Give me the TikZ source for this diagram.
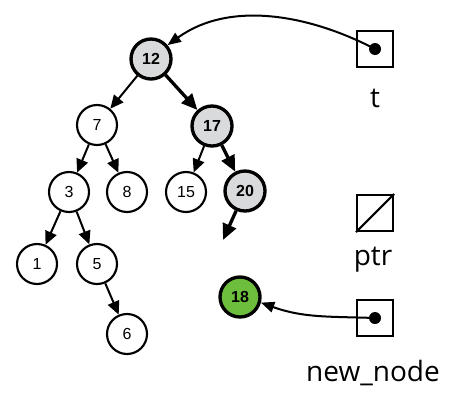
\documentclass[tikz,border=0pt]{standalone}
\usepackage{fontspec}
\setmainfont{Open Sans}
\newfontfamily\numfont{Liberation Sans}
\usetikzlibrary{arrows.meta}
\definecolor{visitgray}{RGB}{217,218,220}
\definecolor{newgreen}{RGB}{108,190,60}
\begin{document}
\begin{tikzpicture}[x=0.75pt,y=-0.75pt,
  tnode/.style={circle,draw,line width=1.6pt,minimum size=30pt,inner sep=0pt,
    fill=white,font=\numfont\fontsize{12}{14}\selectfont},
  pathnode/.style={tnode,line width=2.5pt,fill=visitgray,
    font=\numfont\bfseries\fontsize{12}{14}\selectfont},
  newnode/.style={pathnode,fill=newgreen},
  edge/.style={-{Triangle[length=10pt,width=9pt]},line width=1.5pt},
  pathedge/.style={-{Triangle[length=12pt,width=10.5pt]},line width=2.5pt},
  refarrow/.style={-{Triangle[length=10pt,width=8pt]},line width=1.5pt},
  ptrbox/.style={draw,line width=1.6pt,minimum size=27pt,inner sep=0pt},
  lbl/.style={font=\fontsize{21}{25}\selectfont,inner sep=0pt},
  dot/.style={circle,fill,minimum size=9pt,inner sep=0pt}
]
\useasboundingbox (0,0) rectangle (466,407);

% binary search tree
\node[pathnode] (n12) at (151,59) {12};
\node[tnode]    (n7)  at (97,125) {7};
\node[pathnode] (n17) at (212,126) {17};
\node[tnode]    (n3)  at (69,192) {3};
\node[tnode]    (n8)  at (127,192) {8};
\node[tnode]    (n15) at (186,192) {15};
\node[pathnode] (n20) at (245,191) {20};
\node[tnode]    (n1)  at (37,264) {1};
\node[tnode]    (n5)  at (97,264) {5};
\node[tnode]    (n6)  at (127,334) {6};
\node[newnode]  (n18) at (240,297) {18};
\coordinate (nil) at (223,240);

\draw[edge] (n12) -- (n7);
\draw[edge] (n7) -- (n3);
\draw[edge] (n7) -- (n8);
\draw[edge] (n3) -- (n1);
\draw[edge] (n3) -- (n5);
\draw[edge] (n5) -- (n6);
\draw[edge] (n17) -- (n15);
\draw[pathedge] (n12) -- (n17);
\draw[pathedge] (n17) -- (n20);
\draw[pathedge] (n20) -- (nil);

% pointer variables
\node[ptrbox] (t) at (375,49) {};
\node[dot] (tdot) at (t.center) {};
\node[lbl] (tlbl) at (375,98) {t};

\node[ptrbox] (ptr) at (375,213) {};
\draw[line width=1.6pt] (ptr.south west) -- (ptr.north east);
\node[lbl] (ptrlbl) at (373,260) {ptr};

\node[ptrbox] (nn) at (375,318) {};
\node[dot] (nndot) at (nn.center) {};
\node[lbl] (nnlbl) at (373,373) {new\_node};

\draw[refarrow] (tdot.center) .. controls (310,15) and (230,0) .. (n12.40);
\draw[refarrow] (nndot.center) to[out=178,in=-20] (n18.-15);
\end{tikzpicture}
\end{document}
